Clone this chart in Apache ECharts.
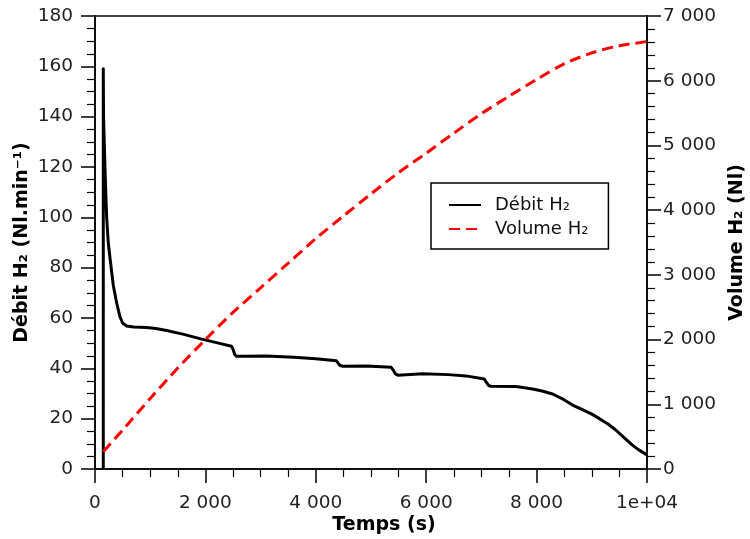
<!DOCTYPE html>
<html><head><meta charset="utf-8">
<script src="https://cdn.jsdelivr.net/npm/echarts@6/dist/echarts.min.js"></script>
<style>html,body{margin:0;padding:0;background:#fff}#c{width:750px;height:539px}</style>
</head><body><div id="c"></div>
<script>
// Débit H2 (Nl/min) vs time (s)
const debitT = [150,150,155,180,211,240,271,331,392,452,500,573,700,935,1100,1297,1591,1899,2200,2472,2500,2530,2562,2700,3105,3600,4000,4371,4400,4440,4491,4913,5365,5400,5440,5485,5937,6400,6721,7052,7085,7130,7174,7626,7927,8100,8289,8450,8651,8850,9000,9132,9300,9434,9600,9735,9850,10000];
const debitV = [0,159,140,120,100,90,84,73,66,60.5,58,56.8,56.4,56.2,55.8,55.0,53.6,51.8,50.2,48.8,47.6,45.6,44.8,44.8,44.9,44.4,43.8,43.0,42.3,41.1,40.8,40.9,40.4,39.4,37.8,37.3,37.8,37.5,37.0,35.8,34.6,33.2,32.9,32.8,31.8,31.0,29.8,28.1,25.4,23.4,21.8,20.1,17.8,15.5,12.2,9.5,7.6,5.6];
// Volume H2 (Nl) vs time (s)
const volT = [150,500,1000,1500,2000,2500,3000,3500,4000,4500,5000,5500,6000,6500,7000,7500,8000,8500,9000,9500,10000];
const volV = [267,600,1090,1560,2000,2420,2800,3180,3560,3910,4250,4580,4880,5190,5490,5760,6020,6260,6430,6540,6605];

const seriesNames = ['Débit H₂', 'Volume H₂'];
const xName = 'Temps (s)';
const yLeftName = 'Débit H₂ (Nl.min⁻¹)';
const yRightName = 'Volume H₂ (Nl)';

const FONT = 'DejaVu Sans';
function fmtThousands(v){
  if (v === 10000) return '1e+04';
  return String(v).replace(/\B(?=(\d{3})+(?!\d))/g, ' ');
}
const chart = echarts.init(document.getElementById('c'), null, {renderer:'canvas'});
const axisLine = {show:true, lineStyle:{color:'#000', width:1.5}};
const axisTick = {show:true, inside:false, length:14, lineStyle:{color:'#000', width:1.5}};
const minorTick = {show:true, length:8, lineStyle:{color:'#000', width:1.2}};
const labelStyle = {color:'#222', fontFamily:FONT, fontSize:18.5};
chart.setOption({
  animation:false,
  backgroundColor:'#fff',
  grid:{left:95, right:103, top:16, bottom:70, show:true, borderColor:'#000', borderWidth:1.5, backgroundColor:'transparent', containLabel:false, outerBoundsMode:'none'},
  legend:{
    orient:'vertical', left:431, top:183,
    padding:[13,20,11,17],
    borderColor:'#000', borderWidth:1.5, backgroundColor:'#fff',
    itemWidth:32, itemHeight:14, itemGap:6,
    itemStyle:{color:'rgba(0,0,0,0)', borderColor:'rgba(0,0,0,0)', borderWidth:0, opacity:0},
    textStyle:{fontFamily:FONT, fontSize:18, color:'#111', padding:[0,0,0,9]},
    data:seriesNames
  },
  xAxis:{
    type:'value', min:0, max:10000, interval:2000,
    name:xName, nameLocation:'middle', nameGap:47, nameMoveOverlap:false,
    nameTextStyle:{fontFamily:FONT, fontSize:19, fontWeight:'bold', color:'#000', padding:[0,0,0,26]},
    axisLine:axisLine, axisTick:axisTick, minorTick:Object.assign({splitNumber:4}, minorTick),
    splitLine:{show:false}, minorSplitLine:{show:false},
    axisLabel:Object.assign({margin:25, formatter:fmtThousands}, labelStyle)
  },
  yAxis:[
    {
      type:'value', min:0, max:180, interval:20, position:'left',
      name:yLeftName, nameLocation:'middle', nameGap:63, nameRotate:90, nameMoveOverlap:false,
      nameTextStyle:{fontFamily:FONT, fontSize:19, fontWeight:'bold', color:'#000'},
      axisLine:axisLine, axisTick:axisTick, minorTick:Object.assign({splitNumber:4}, minorTick),
      splitLine:{show:false}, minorSplitLine:{show:false},
      axisLabel:Object.assign({margin:22}, labelStyle)
    },
    {
      type:'value', min:0, max:7000, interval:1000, position:'right',
      name:yRightName, nameLocation:'middle', nameGap:81, nameRotate:90, nameMoveOverlap:false,
      nameTextStyle:{fontFamily:FONT, fontSize:19, fontWeight:'bold', color:'#000'},
      axisLine:axisLine, axisTick:axisTick, minorTick:Object.assign({splitNumber:5}, minorTick),
      splitLine:{show:false}, minorSplitLine:{show:false},
      axisLabel:Object.assign({margin:16, formatter:fmtThousands}, labelStyle)
    }
  ],
  series:[
    {
      name:seriesNames[0], type:'line', yAxisIndex:0, symbol:'none', smooth:false,
      lineStyle:{color:'#000', width:3, join:'round'}, itemStyle:{color:'#000'},
      data:debitT.map((t,i)=>[t, debitV[i]])
    },
    {
      name:seriesNames[1], type:'line', yAxisIndex:1, symbol:'none', smooth:0.3,
      lineStyle:{color:'#ff0000', width:3, type:[11,6]}, itemStyle:{color:'#ff0000'},
      data:volT.map((t,i)=>[t, volV[i]])
    }
  ]
});
</script>
</body></html>
